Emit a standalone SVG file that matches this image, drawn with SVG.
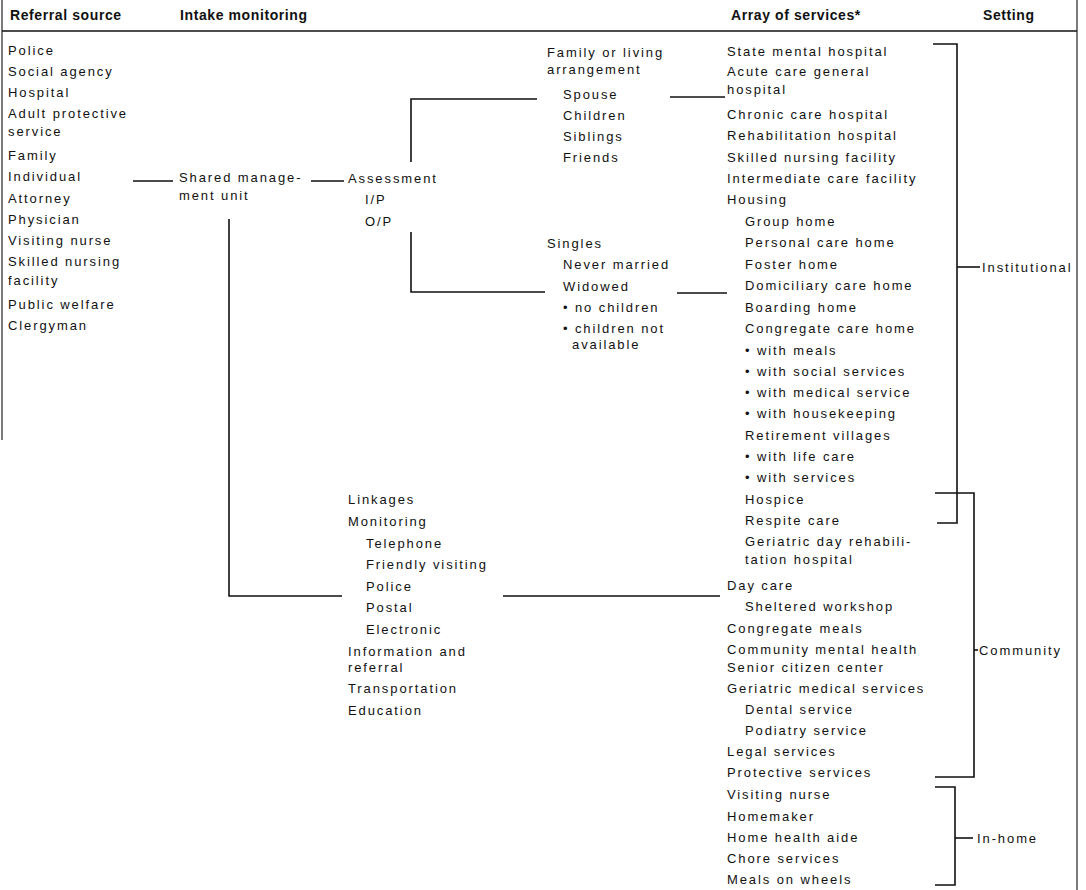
<svg xmlns="http://www.w3.org/2000/svg" width="1086" height="890" viewBox="0 0 1086 890">
<style>
text{font-family:"Liberation Sans",Arial,sans-serif;font-size:13px;letter-spacing:1.9px;fill:#111}
text.h{font-weight:bold;font-size:14px;letter-spacing:0.6px}
.c{stroke:#111;stroke-width:1.6;fill:none}
.b{stroke:#222;stroke-width:1.2;fill:none}
</style>
<rect width="1086" height="890" fill="#fff"/>
<g id="frame">
<line class="b" x1="2" y1="0" x2="2" y2="440"/>
<line class="b" x1="1077" y1="0" x2="1077" y2="890"/>
<line class="c" x1="2" y1="31" x2="1077" y2="31" stroke-width="2"/>
</g>
<g id="header">
<text class="h" x="10" y="20">Referral source</text>
<text class="h" x="180" y="20">Intake monitoring</text>
<text class="h" x="731" y="20">Array of services*</text>
<text class="h" x="983" y="20">Setting</text>
</g>
<g id="referral-sources">
<text x="8" y="55">Police</text>
<text x="8" y="76">Social agency</text>
<text x="8" y="97">Hospital</text>
<text x="8" y="118">Adult protective</text>
<text x="8" y="136">service</text>
<text x="8" y="160">Family</text>
<text x="8" y="181">Individual</text>
<text x="8" y="203">Attorney</text>
<text x="8" y="224">Physician</text>
<text x="8" y="245">Visiting nurse</text>
<text x="8" y="266">Skilled nursing</text>
<text x="8" y="285">facility</text>
<text x="8" y="309">Public welfare</text>
<text x="8" y="330">Clergyman</text>
</g>
<g id="shared-management-unit">
<text x="179" y="182">Shared manage-</text>
<text x="179" y="200">ment unit</text>
</g>
<g id="assessment">
<text x="348" y="183">Assessment</text>
<text x="365" y="204">I/P</text>
<text x="365" y="226">O/P</text>
</g>
<g id="family-living">
<text x="547" y="57">Family or living</text>
<text x="547" y="74">arrangement</text>
<text x="563" y="99">Spouse</text>
<text x="563" y="120">Children</text>
<text x="563" y="141">Siblings</text>
<text x="563" y="162">Friends</text>
</g>
<g id="singles">
<text x="547" y="248">Singles</text>
<text x="563" y="269">Never married</text>
<text x="563" y="291">Widowed</text>
<text x="563" y="312">• no children</text>
<text x="563" y="333">• children not</text>
<text x="572" y="349">available</text>
</g>
<g id="monitoring">
<text x="348" y="504">Linkages</text>
<text x="348" y="526">Monitoring</text>
<text x="366" y="548">Telephone</text>
<text x="366" y="569">Friendly visiting</text>
<text x="366" y="591">Police</text>
<text x="366" y="612">Postal</text>
<text x="366" y="634">Electronic</text>
<text x="348" y="656">Information and</text>
<text x="348" y="672">referral</text>
<text x="348" y="693">Transportation</text>
<text x="348" y="715">Education</text>
</g>
<g id="institutional-services">
<text x="727" y="56">State mental hospital</text>
<text x="727" y="76">Acute care general</text>
<text x="727" y="94">hospital</text>
<text x="727" y="119">Chronic care hospital</text>
<text x="727" y="140">Rehabilitation hospital</text>
<text x="727" y="162">Skilled nursing facility</text>
<text x="727" y="183">Intermediate care facility</text>
<text x="727" y="204">Housing</text>
<text x="745" y="226">Group home</text>
<text x="745" y="247">Personal care home</text>
<text x="745" y="269">Foster home</text>
<text x="745" y="290">Domiciliary care home</text>
<text x="745" y="312">Boarding home</text>
<text x="745" y="333">Congregate care home</text>
<text x="745" y="355">• with meals</text>
<text x="745" y="376">• with social services</text>
<text x="745" y="397">• with medical service</text>
<text x="745" y="418">• with housekeeping</text>
<text x="745" y="440">Retirement villages</text>
<text x="745" y="461">• with life care</text>
<text x="745" y="482">• with services</text>
<text x="745" y="504">Hospice</text>
<text x="745" y="525">Respite care</text>
</g>
<g id="community-services">
<text x="745" y="546">Geriatric day rehabili-</text>
<text x="745" y="564">tation hospital</text>
<text x="727" y="590">Day care</text>
<text x="745" y="611">Sheltered workshop</text>
<text x="727" y="633">Congregate meals</text>
<text x="727" y="654">Community mental health</text>
<text x="727" y="672">Senior citizen center</text>
<text x="727" y="693">Geriatric medical services</text>
<text x="745" y="714">Dental service</text>
<text x="745" y="735">Podiatry service</text>
<text x="727" y="756">Legal services</text>
<text x="727" y="777">Protective services</text>
</g>
<g id="in-home-services">
<text x="727" y="799">Visiting nurse</text>
<text x="727" y="821">Homemaker</text>
<text x="727" y="842">Home health aide</text>
<text x="727" y="863">Chore services</text>
<text x="727" y="884">Meals on wheels</text>
</g>
<g id="settings">
<text x="982" y="272">Institutional</text>
<text x="979" y="655">Community</text>
<text x="977" y="843">In-home</text>
</g>
<g id="connectors">
<line class="c" x1="133" y1="181" x2="173" y2="181"/>
<line class="c" x1="311" y1="181" x2="344" y2="181"/>
<path class="c" d="M411,162 V99 H537"/>
<path class="c" d="M411,232 V292 H545"/>
<line class="c" x1="670" y1="97" x2="725" y2="97"/>
<line class="c" x1="677" y1="293" x2="727" y2="293"/>
<path class="c" d="M229,219 V596 H342"/>
<line class="c" x1="503" y1="596" x2="720" y2="596"/>
<path class="c" d="M933,44 H957 V523 H937"/>
<line class="c" x1="957" y1="267" x2="980" y2="267"/>
<path class="c" d="M935,493 H974 V777 H935"/>
<line class="c" x1="974" y1="650" x2="978" y2="650"/>
<path class="c" d="M935,787 H955 V885 H935"/>
<line class="c" x1="955" y1="838" x2="973" y2="838"/>
</g>
</svg>
